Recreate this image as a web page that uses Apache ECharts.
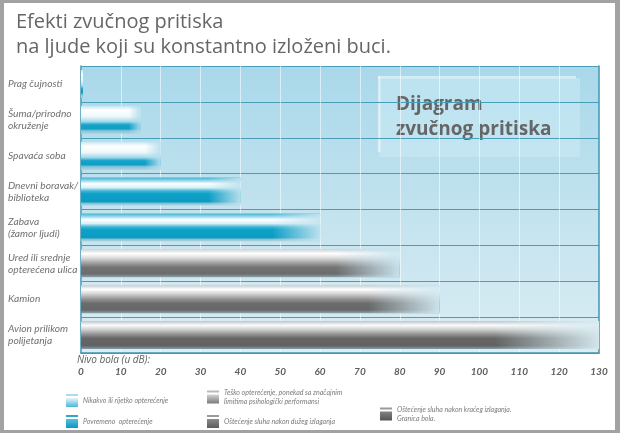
<!DOCTYPE html>
<html>
<head>
<meta charset="utf-8">
<script src="https://cdn.jsdelivr.net/npm/echarts@6/dist/echarts.min.js"></script>
<style>
  html, body { margin: 0; padding: 0; }
  #chart { width: 620px; height: 433px; }
</style>
</head>
<body>
<div id="chart"></div>
<script>
  // data
  var categories = [
      'Prag čujnosti',
      'Šuma/prirodno\nokruženje',
      'Spavaća soba',
      'Dnevni boravak/\nbiblioteka',
      'Zabava\n(žamor ljudi)',
      'Ured ili srednje\nopterećena ulica',
      'Kamion',
      'Avion prilikom\npolijetanja'
  ];
  var levels = [0.5, 15, 20, 40, 60, 80, 90, 130];
  var loadGroup = [0, 0, 0, 1, 1, 2, 3, 4];
  var groupNames = [
      'Nikakvo ili rijetko opterećenje',
      'Povremeno  opterećenje',
      'Teško opterećenje, ponekad sa značajnim\nlimitima psihologički performansi',
      'Oštećenje sluha nakon dužeg izlaganja',
      'Oštećenje sluha nakon kraćeg izlaganja.\nGranica bola.'
  ];
  var xMin = 0, xMax = 130, xStep = 10;

  function vgrad(stops) {
      return {
          type: 'linear', x: 0, y: 0, x2: 0, y2: 1,
          colorStops: stops.map(function (s) { return { offset: s[0], color: s[1] }; })
      };
  }

  var barColors = [
      vgrad([[0, '#bfe6f2'], [0.16, '#ffffff'], [0.38, '#eef8fb'], [0.56, '#a3d9ea'], [0.68, '#14a3c9'], [0.82, '#0f9fc6'], [0.9, '#8fc5d7'], [1, '#a7d2df']]),
      vgrad([[0, '#3cb2d3'], [0.1, '#8fd4e8'], [0.22, '#ffffff'], [0.36, '#d9f0f7'], [0.48, '#3fb5d6'], [0.58, '#0ea1c8'], [0.86, '#0b9cc3'], [0.93, '#8ac3d5'], [1, '#b3d6e1']]),
      vgrad([[0, '#cdd3d6'], [0.15, '#ffffff'], [0.3, '#dedede'], [0.5, '#9c9c9c'], [0.65, '#737373'], [0.88, '#6b6b6b'], [1, '#90a6ae']]),
      vgrad([[0, '#c6cbce'], [0.15, '#ffffff'], [0.3, '#d6d6d6'], [0.5, '#929292'], [0.65, '#6c6c6c'], [0.88, '#666666'], [1, '#8aa2ab']]),
      vgrad([[0, '#c0c5c8'], [0.15, '#fbfbfb'], [0.3, '#d0d0d0'], [0.5, '#8a8a8a'], [0.62, '#666666'], [0.88, '#626262'], [1, '#86a0a9']])
  ];

  var legendIcons = [
      ['#a9dced', '#e9f6fb', '#49b6d6'],
      ['#2ea9cc', '#5cbfda', '#0a98c1'],
      ['#b9b9b9', '#d6d6d6', '#7a7a7a'],
      ['#9a9a9a', '#8c8c8c', '#5c5c5c'],
      ['#9a9a9a', '#858585', '#555555']
  ];

  // plot background runs from this colour at the top to that at the bottom
  var bgTop = [169, 216, 234], bgBottom = [219, 237, 243];
  function bgAt(k) {
      var t = (k + 0.5) / categories.length;
      return bgTop.map(function (c, i) { return Math.round(c + (bgBottom[i] - c) * t); });
  }
  function fade(rgb) {
      var c = rgb.join(',');
      return {
          type: 'linear', x: 0, y: 0, x2: 1, y2: 0,
          colorStops: [
              { offset: 0, color: 'rgba(' + c + ',0)' },
              { offset: 0.8, color: 'rgba(' + c + ',0)' },
              { offset: 1, color: 'rgba(' + c + ',0.95)' }
          ]
      };
  }

  var series = groupNames.map(function (name, g) {
      return {
          name: name,
          type: 'bar',
          barWidth: 28,
          barGap: '-100%',
          itemStyle: { color: barColors[g] },
          data: levels.map(function (v, k) { return loadGroup[k] === g ? v : '-'; })
      };
  });
  series.push({
      name: 'fade',
      type: 'bar',
      barWidth: 28,
      barGap: '-100%',
      silent: true,
      z: 3,
      data: levels.map(function (v, k) {
          return { value: v, itemStyle: { color: fade(bgAt(k)) } };
      })
  });

  function legendItem(g) {
      var c = legendIcons[g];
      return {
          name: groupNames[g],
          icon: 'path://M0,0L12,0L12,2L0,2Z M0,4L12,4L12,13L0,13Z',
          itemStyle: {
              color: vgrad([[0, c[0]], [0.15, c[0]], [0.3, c[1]], [1, c[2]]])
          }
      };
  }
  var legendText = { fontSize: 7, lineHeight: 9, fontStyle: 'italic', color: '#7b7b7b', fontFamily: 'Lato' };

  var chart = echarts.init(document.getElementById('chart'));

  var option = {
      backgroundColor: '#a2a2a2',
      animation: false,
      title: {
          text: 'Efekti zvučnog pritiska\nna ljude koji su konstantno izloženi buci.',
          left: 16,
          top: 10,
          padding: 0,
          textStyle: {
              fontFamily: 'Open Sans',
              fontSize: 20,
              lineHeight: 25,
              fontWeight: 'normal',
              color: '#666666'
          }
      },
      grid: {
          left: 81,
          right: 21,
          top: 66,
          bottom: 80,
          show: true,
          borderWidth: 0,
          backgroundColor: vgrad([[0, 'rgb(' + bgTop.join(',') + ')'], [1, 'rgb(' + bgBottom.join(',') + ')']])
      },
      legend: [
          {
              orient: 'vertical', left: 66, top: 394, padding: 0, itemWidth: 12, itemHeight: 13, itemGap: 8,
              selectedMode: false, textStyle: legendText,
              data: [legendItem(0), legendItem(1)]
          },
          {
              orient: 'vertical', left: 207, top: 388, padding: 0, itemWidth: 12, itemHeight: 13, itemGap: 9,
              selectedMode: false, textStyle: legendText,
              data: [legendItem(2), legendItem(3)]
          },
          {
              orient: 'vertical', left: 380, top: 405, padding: 0, itemWidth: 12, itemHeight: 13,
              selectedMode: false, textStyle: legendText,
              data: [legendItem(4)]
          }
      ],
      xAxis: {
          type: 'value',
          min: xMin,
          max: xMax,
          interval: xStep,
          axisLine: { show: true, lineStyle: { color: '#3f96b1', width: 1.5 } },
          axisTick: { show: false },
          splitLine: { show: true, lineStyle: { color: 'rgba(255,255,255,0.55)', width: 1 } },
          axisLabel: {
              margin: 14,
              fontFamily: 'Lato',
              fontStyle: 'italic',
              fontWeight: 'bold',
              fontSize: 10,
              color: '#5e5e5e'
          }
      },
      yAxis: [
          {
              type: 'category',
              inverse: true,
              data: categories,
              axisLine: { show: true, lineStyle: { color: '#3f96b1', width: 1.5 } },
              axisTick: { show: false },
              splitLine: { show: true, lineStyle: { color: '#4a9db7', width: 1 } },
              axisLabel: {
                  align: 'left',
                  margin: 73,
                  fontFamily: 'Lato',
                  fontStyle: 'italic',
                  fontSize: 10.2,
                  lineHeight: 12,
                  color: '#707070'
              }
          },
          {
              type: 'category',
              inverse: true,
              position: 'right',
              data: categories,
              axisLine: { show: true, lineStyle: { color: '#3f96b1', width: 1.5 } },
              axisTick: { show: false },
              axisLabel: { show: false },
              splitLine: { show: false }
          }
      ],
      graphic: [
          {
              type: 'rect', z: -100, silent: true,
              shape: { x: 4, y: 3, width: 611, height: 427 },
              style: { fill: '#ffffff' }
          },
          {
              type: 'group', z: 100, silent: true,
              children: [
                  { type: 'rect', shape: { x: 379, y: 78, width: 201, height: 79 }, style: { fill: 'rgba(205,236,246,0.5)' } },
                  { type: 'rect', shape: { x: 378, y: 76, width: 198, height: 2.5 }, style: { fill: 'rgba(255,255,255,0.5)' } },
                  { type: 'rect', shape: { x: 378, y: 76, width: 2.5, height: 76 }, style: { fill: 'rgba(255,255,255,0.5)' } },
                  {
                      type: 'text', x: 396, y: 92,
                      style: {
                          text: 'Dijagram\nzvučnog pritiska',
                          fontFamily: 'Open Sans', fontWeight: 'bold', fontSize: 19, lineHeight: 25,
                          fill: '#666666'
                      }
                  }
              ]
          },
          {
              type: 'text', left: 77, top: 355, silent: true,
              style: {
                  text: 'Nivo bola (u dB):',
                  fontFamily: 'Open Sans', fontStyle: 'italic', fontSize: 10,
                  fill: '#606060'
              }
          }
      ],
      series: series
  };

  chart.setOption(option);
</script>
</body>
</html>
